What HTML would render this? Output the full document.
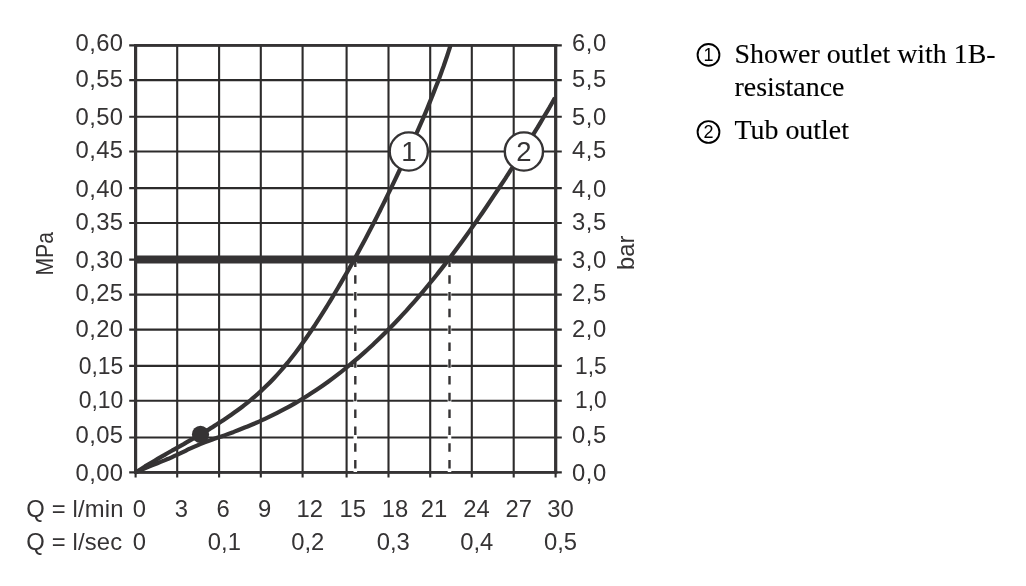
<!DOCTYPE html>
<html lang="en"><head><meta charset="utf-8"><title>Flow diagram</title>
<style>html,body{margin:0;padding:0;background:#fff}body{width:1026px;height:586px;overflow:hidden}svg{display:block}.s{font-family:"Liberation Sans",sans-serif;font-size:23.8px;fill:#353334}.t{font-family:"Liberation Serif",serif;font-size:27.9px;fill:#000;stroke:#000;stroke-width:0.12px}</style></head><body>
<svg width="1026" height="586" viewBox="0 0 1026 586">
<rect width="1026" height="586" fill="#fff"/>
<g stroke="#2c2b2b" stroke-width="2.1" fill="none">
<line x1="129.2" y1="45.4" x2="561.8" y2="45.4"/>
<line x1="129.2" y1="80.1" x2="561.8" y2="80.1"/>
<line x1="129.2" y1="116.8" x2="561.8" y2="116.8"/>
<line x1="129.2" y1="151.5" x2="561.8" y2="151.5"/>
<line x1="129.2" y1="188.1" x2="561.8" y2="188.1"/>
<line x1="129.2" y1="223.0" x2="561.8" y2="223.0"/>
<line x1="129.2" y1="259.6" x2="561.8" y2="259.6"/>
<line x1="129.2" y1="294.6" x2="561.8" y2="294.6"/>
<line x1="129.2" y1="329.6" x2="561.8" y2="329.6"/>
<line x1="129.2" y1="365.9" x2="561.8" y2="365.9"/>
<line x1="129.2" y1="400.8" x2="561.8" y2="400.8"/>
<line x1="129.2" y1="437.5" x2="561.8" y2="437.5"/>
<line x1="129.2" y1="472.4" x2="561.8" y2="472.4"/>
<line x1="135.6" y1="45.3" x2="135.6" y2="477.5"/>
<line x1="177.2" y1="45.3" x2="177.2" y2="477.5"/>
<line x1="219.1" y1="45.3" x2="219.1" y2="477.5"/>
<line x1="260.8" y1="45.3" x2="260.8" y2="477.5"/>
<line x1="302.6" y1="45.3" x2="302.6" y2="477.5"/>
<line x1="346.6" y1="45.3" x2="346.6" y2="477.5"/>
<line x1="388.5" y1="45.3" x2="388.5" y2="477.5"/>
<line x1="430.2" y1="45.3" x2="430.2" y2="477.5"/>
<line x1="471.8" y1="45.3" x2="471.8" y2="477.5"/>
<line x1="513.7" y1="45.3" x2="513.7" y2="477.5"/>
<line x1="555.6" y1="45.3" x2="555.6" y2="477.5"/>
</g>
<g stroke="#353334" fill="none">
<line x1="135.6" y1="44" x2="135.6" y2="473.6" stroke-width="3.2"/>
<line x1="555.7" y1="44" x2="555.7" y2="473.6" stroke-width="3.2"/>
<line x1="134" y1="45.4" x2="557.3" y2="45.4" stroke-width="2.8"/>
<line x1="134" y1="472.4" x2="557.3" y2="472.4" stroke-width="2.8"/>
<line x1="134" y1="259.5" x2="557.3" y2="259.5" stroke-width="7.8"/>
</g>
<line x1="355.3" y1="262" x2="355.3" y2="472" stroke="#fff" stroke-width="3.6"/>
<line x1="355.3" y1="258.4" x2="355.3" y2="470" stroke="#353334" stroke-width="2.4" stroke-dasharray="8.5 8.3"/>
<line x1="449.5" y1="262" x2="449.5" y2="472" stroke="#fff" stroke-width="3.6"/>
<line x1="449.5" y1="258.4" x2="449.5" y2="470" stroke="#353334" stroke-width="2.4" stroke-dasharray="8.5 8.3"/>
<g stroke="#353334" stroke-width="4.2" fill="none" stroke-linejoin="round">
<path d="M135.6 472.4C137.2 471.4 141.9 468.4 145.0 466.4C148.2 464.5 151.4 462.6 154.6 460.7C157.8 458.8 161.0 456.9 164.2 455.1C167.4 453.2 170.7 451.4 173.9 449.6C177.2 447.7 180.4 445.9 183.7 444.1C186.9 442.2 190.1 440.4 193.4 438.5C196.6 436.7 199.8 434.8 203.0 432.9C206.2 431.0 209.4 429.1 212.6 427.1C215.8 425.1 218.9 423.1 222.0 421.1C225.1 419.0 228.2 417.0 231.3 414.8C234.3 412.7 237.3 410.5 240.3 408.3C243.3 406.0 246.2 403.7 249.1 401.4C252.0 399.0 254.8 396.6 257.6 394.2C260.3 391.7 263.1 389.2 265.7 386.6C268.4 384.0 271.0 381.4 273.5 378.7C276.1 376.0 278.6 373.3 281.0 370.5C283.5 367.7 285.8 364.9 288.2 362.0C290.5 359.1 292.8 356.2 295.1 353.3C297.4 350.3 299.6 347.3 301.7 344.3C303.9 341.3 306.0 338.3 308.1 335.2C310.3 332.2 312.3 329.1 314.4 326.0C316.4 322.8 318.4 319.7 320.4 316.6C322.4 313.4 324.4 310.3 326.4 307.1C328.3 304.0 330.3 300.8 332.2 297.6C334.1 294.4 336.0 291.2 337.9 288.0C339.8 284.8 341.7 281.6 343.5 278.4C345.4 275.2 347.2 272.0 349.1 268.8C350.9 265.5 352.7 262.3 354.5 259.0C356.3 255.8 358.1 252.5 359.8 249.3C361.6 246.0 363.4 242.7 365.1 239.5C366.8 236.2 368.6 232.9 370.3 229.6C372.0 226.3 373.7 223.0 375.4 219.7C377.1 216.4 378.7 213.1 380.4 209.7C382.1 206.4 383.7 203.1 385.4 199.7C387.0 196.4 388.7 193.0 390.3 189.7C391.9 186.3 393.5 183.0 395.1 179.6C396.7 176.3 398.3 172.9 399.9 169.5C401.5 166.1 403.1 162.7 404.7 159.3C406.3 156.0 407.8 152.6 409.4 149.2C411.0 145.8 412.5 142.3 414.0 138.9C415.6 135.5 417.1 132.1 418.6 128.7C420.1 125.2 421.6 121.8 423.1 118.4C424.5 114.9 426.0 111.5 427.4 108.1C428.8 104.6 430.2 101.2 431.6 97.7C433.0 94.2 434.4 90.8 435.7 87.3C437.1 83.8 438.4 80.4 439.7 76.9C441.0 73.4 442.2 69.9 443.5 66.5C444.7 63.0 445.9 59.5 447.1 56.0C448.2 52.5 449.9 47.3 450.5 45.5"/>
<path d="M135.6 472.4C137.4 471.6 142.9 469.1 146.6 467.6C150.2 466.1 153.8 464.7 157.4 463.2C161.0 461.8 164.6 460.3 168.3 458.8C171.9 457.2 175.5 455.6 179.1 453.9C182.7 452.3 186.3 450.4 189.9 448.7C193.5 447.1 197.2 445.4 200.8 443.9C204.4 442.4 208.1 441.1 211.8 439.8C215.4 438.4 219.1 437.2 222.8 435.9C226.4 434.6 230.1 433.2 233.8 431.9C237.4 430.5 241.1 429.0 244.7 427.5C248.4 426.1 252.0 424.5 255.7 423.0C259.3 421.4 262.9 419.8 266.5 418.1C270.1 416.4 273.6 414.7 277.2 412.9C280.7 411.1 284.2 409.3 287.7 407.4C291.2 405.5 294.6 403.5 298.1 401.5C301.5 399.5 304.8 397.4 308.2 395.3C311.5 393.2 314.8 391.0 318.1 388.8C321.4 386.6 324.6 384.3 327.8 382.0C331.0 379.7 334.2 377.3 337.3 374.9C340.5 372.5 343.6 370.0 346.6 367.5C349.7 365.0 352.7 362.5 355.7 359.9C358.8 357.4 361.7 354.8 364.7 352.1C367.6 349.5 370.5 346.9 373.4 344.2C376.2 341.5 379.1 338.8 381.9 336.0C384.7 333.3 387.5 330.5 390.2 327.7C393.0 324.9 395.7 322.1 398.4 319.2C401.1 316.3 403.7 313.5 406.4 310.6C409.0 307.7 411.6 304.7 414.2 301.8C416.8 298.8 419.3 295.9 421.9 292.9C424.4 289.9 426.9 286.9 429.4 283.8C431.9 280.8 434.4 277.7 436.8 274.7C439.3 271.6 441.7 268.5 444.1 265.4C446.5 262.3 448.9 259.2 451.3 256.0C453.6 252.9 456.0 249.7 458.3 246.5C460.7 243.4 463.0 240.2 465.3 237.0C467.6 233.8 469.9 230.5 472.2 227.3C474.5 224.1 476.8 220.8 479.0 217.6C481.3 214.3 483.5 211.1 485.8 207.8C488.0 204.5 490.2 201.2 492.4 197.9C494.6 194.6 496.8 191.3 499.0 188.0C501.2 184.7 503.4 181.4 505.6 178.1C507.7 174.7 509.9 171.4 512.0 168.1C514.2 164.7 516.3 161.4 518.4 158.1C520.6 154.7 522.7 151.4 524.8 148.0C526.9 144.7 529.0 141.3 531.1 137.9C533.2 134.6 535.2 131.2 537.3 127.9C539.3 124.5 541.3 121.2 543.3 117.8C545.3 114.5 547.3 111.1 549.3 107.8C551.2 104.4 554.0 99.4 555.0 97.7"/>
</g>
<circle cx="200.5" cy="434.4" r="8.6" fill="#353334"/>
<circle cx="408.8" cy="151.5" r="19.1" fill="#fff" stroke="#353334" stroke-width="2.4"/>
<text class="s" style="font-size:27.5px" x="408.8" y="160.8" text-anchor="middle">1</text>
<circle cx="523.9" cy="151.5" r="19.1" fill="#fff" stroke="#353334" stroke-width="2.4"/>
<text class="s" style="font-size:27.5px" x="523.9" y="160.8" text-anchor="middle">2</text>
<text class="s" x="123.5" y="50.7" text-anchor="end" letter-spacing="0.4">0,60</text>
<text class="s" x="572.0" y="50.7" letter-spacing="0.6">6,0</text>
<text class="s" x="123.5" y="86.5" text-anchor="end" letter-spacing="0.4">0,55</text>
<text class="s" x="572.0" y="86.5" letter-spacing="0.6">5,5</text>
<text class="s" x="123.5" y="124.5" text-anchor="end" letter-spacing="0.4">0,50</text>
<text class="s" x="572.0" y="124.5" letter-spacing="0.6">5,0</text>
<text class="s" x="123.5" y="158.2" text-anchor="end" letter-spacing="0.4">0,45</text>
<text class="s" x="572.0" y="158.2" letter-spacing="0.6">4,5</text>
<text class="s" x="123.5" y="196.9" text-anchor="end" letter-spacing="0.4">0,40</text>
<text class="s" x="572.0" y="196.9" letter-spacing="0.6">4,0</text>
<text class="s" x="123.5" y="230.0" text-anchor="end" letter-spacing="0.4">0,35</text>
<text class="s" x="572.0" y="230.0" letter-spacing="0.6">3,5</text>
<text class="s" x="123.5" y="267.5" text-anchor="end" letter-spacing="0.4">0,30</text>
<text class="s" x="572.0" y="267.5" letter-spacing="0.6">3,0</text>
<text class="s" x="123.5" y="301.4" text-anchor="end" letter-spacing="0.4">0,25</text>
<text class="s" x="572.0" y="301.4" letter-spacing="0.6">2,5</text>
<text class="s" x="123.5" y="337.3" text-anchor="end" letter-spacing="0.4">0,20</text>
<text class="s" x="572.0" y="337.3" letter-spacing="0.6">2,0</text>
<text class="s" x="123.3" y="373.7" text-anchor="end" textLength="44.6" lengthAdjust="spacingAndGlyphs">0,15</text>
<text class="s" x="575.0" y="373.7" textLength="31.6" lengthAdjust="spacingAndGlyphs">1,5</text>
<text class="s" x="123.3" y="408.0" text-anchor="end" textLength="44.6" lengthAdjust="spacingAndGlyphs">0,10</text>
<text class="s" x="575.0" y="408.0" textLength="31.6" lengthAdjust="spacingAndGlyphs">1,0</text>
<text class="s" x="123.5" y="443.1" text-anchor="end" letter-spacing="0.4">0,05</text>
<text class="s" x="572.0" y="443.1" letter-spacing="0.6">0,5</text>
<text class="s" x="123.5" y="480.7" text-anchor="end" letter-spacing="0.4">0,00</text>
<text class="s" x="572.0" y="480.7" letter-spacing="0.6">0,0</text>
<text class="s" transform="translate(53.3 275.6) rotate(-90)" textLength="43.5" lengthAdjust="spacingAndGlyphs">MPa</text>
<text class="s" transform="translate(634.1 270) rotate(-90)">bar</text>
<text class="s" x="26.3" y="516.7" textLength="97.2">Q = l/min</text>
<text class="s" x="26.3" y="550.3" textLength="95.8">Q = l/sec</text>
<text class="s" x="139.4" y="516.7" text-anchor="middle">0</text>
<text class="s" x="181.4" y="516.7" text-anchor="middle">3</text>
<text class="s" x="223.0" y="516.7" text-anchor="middle">6</text>
<text class="s" x="264.7" y="516.7" text-anchor="middle">9</text>
<text class="s" x="309.8" y="516.7" text-anchor="middle">12</text>
<text class="s" x="352.8" y="516.7" text-anchor="middle">15</text>
<text class="s" x="395.0" y="516.7" text-anchor="middle">18</text>
<text class="s" x="433.9" y="516.7" text-anchor="middle">21</text>
<text class="s" x="476.6" y="516.7" text-anchor="middle">24</text>
<text class="s" x="518.7" y="516.7" text-anchor="middle">27</text>
<text class="s" x="560.5" y="516.7" text-anchor="middle">30</text>
<text class="s" x="139.4" y="550.3" text-anchor="middle">0</text>
<text class="s" x="224.4" y="550.3" text-anchor="middle">0,1</text>
<text class="s" x="307.7" y="550.3" text-anchor="middle">0,2</text>
<text class="s" x="393.2" y="550.3" text-anchor="middle">0,3</text>
<text class="s" x="476.8" y="550.3" text-anchor="middle">0,4</text>
<text class="s" x="560.5" y="550.3" text-anchor="middle">0,5</text>
<circle cx="708.5" cy="54.9" r="10.9" fill="none" stroke="#000" stroke-width="1.9"/>
<text x="708.4" y="61.1" text-anchor="middle" style="font-family:'Liberation Sans',sans-serif;font-size:18px;fill:#000">1</text>
<circle cx="708.5" cy="132.0" r="10.9" fill="none" stroke="#000" stroke-width="1.9"/>
<text x="708.4" y="138.2" text-anchor="middle" style="font-family:'Liberation Sans',sans-serif;font-size:18px;fill:#000">2</text>
<text class="t" x="734.5" y="62.8">Shower outlet with 1B-</text>
<text class="t" x="734.5" y="95.9">resistance</text>
<text class="t" x="734.5" y="138.5">Tub outlet</text>
</svg></body></html>
